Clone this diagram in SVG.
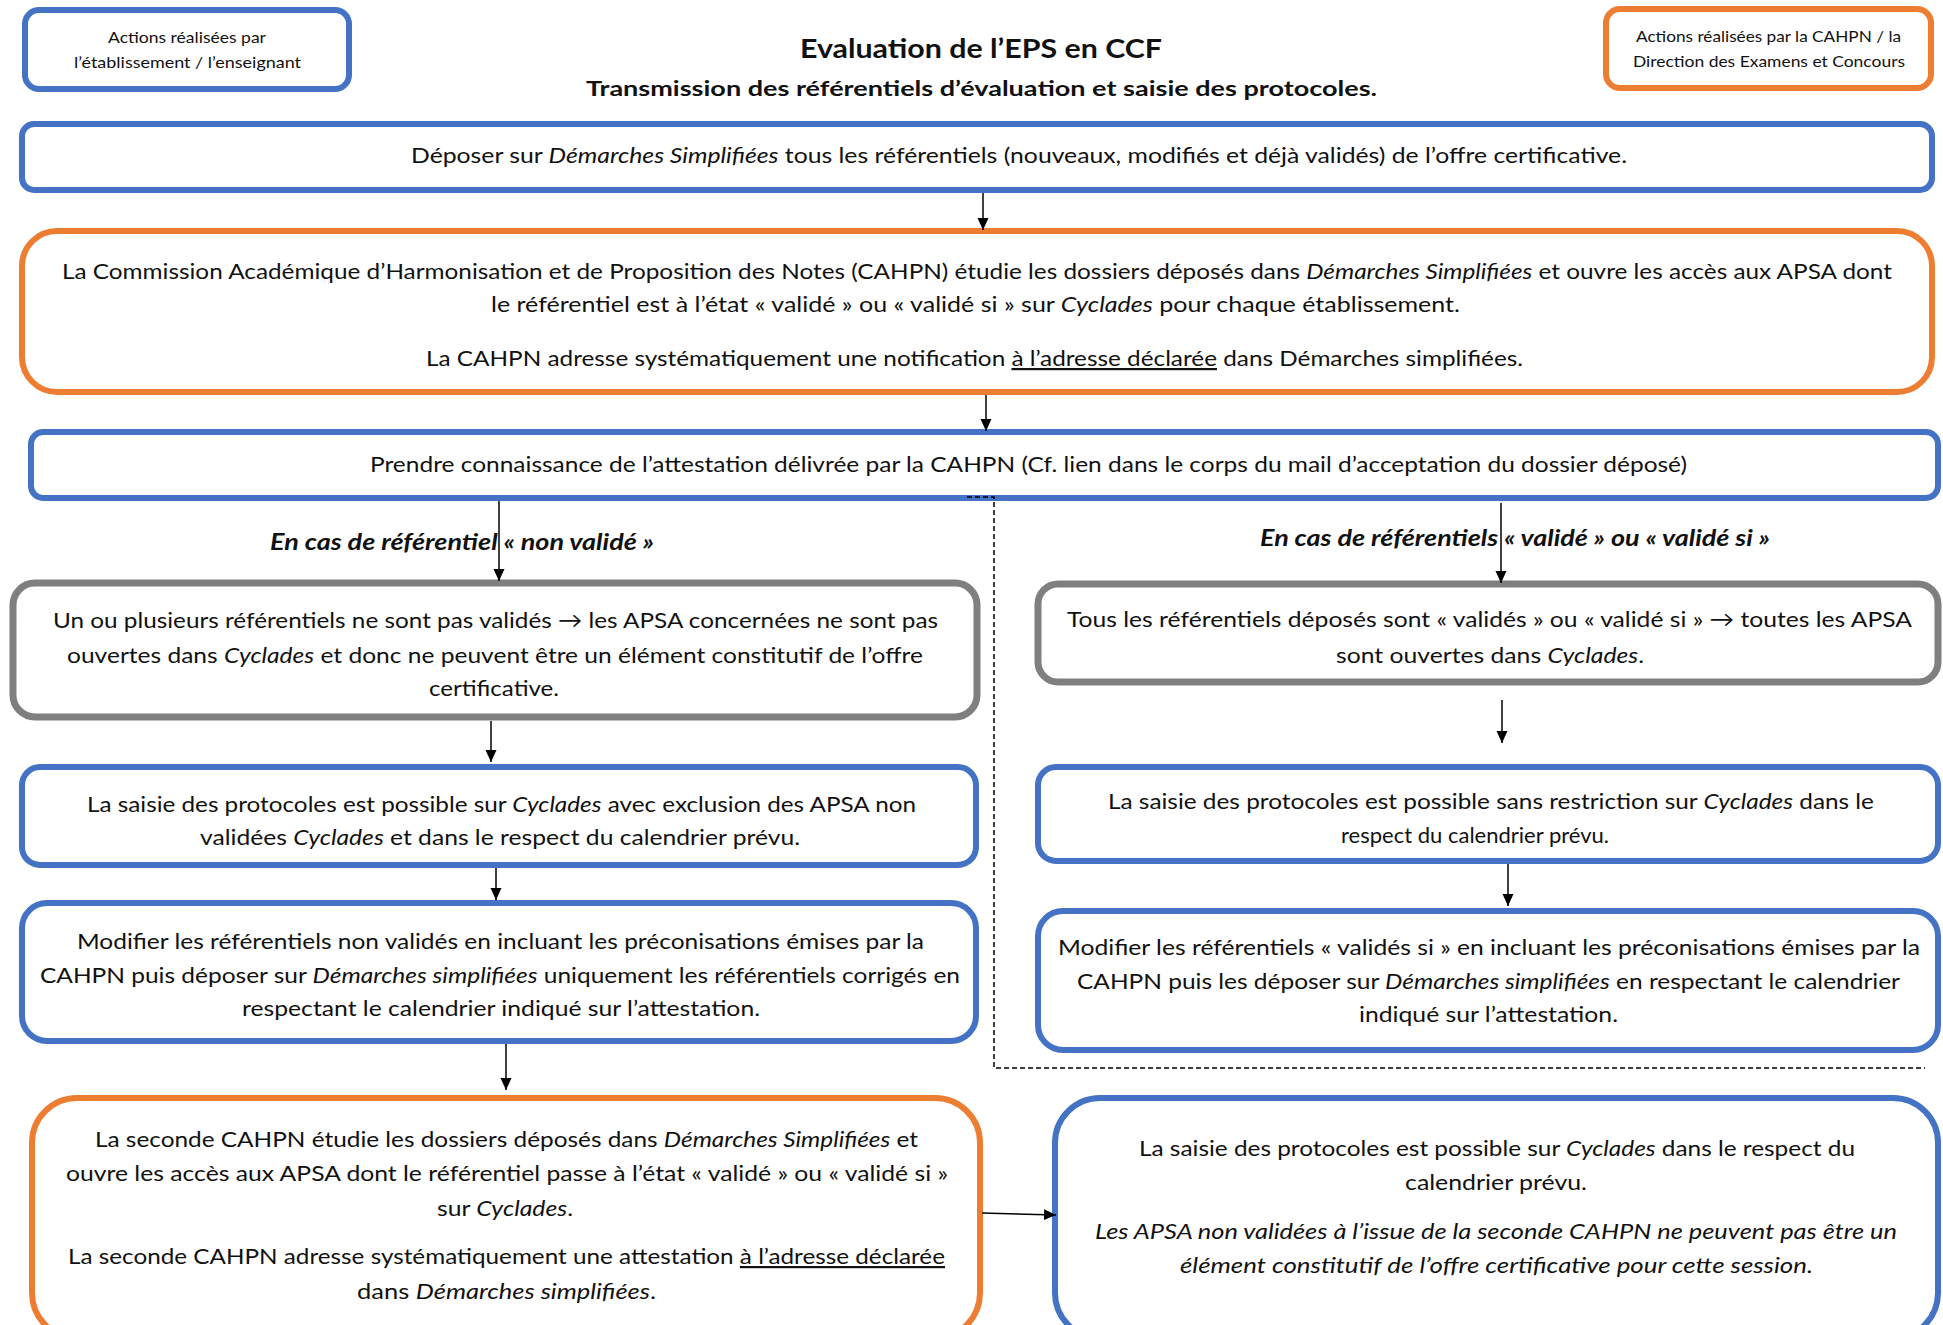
<svg xmlns="http://www.w3.org/2000/svg" width="1943" height="1325" viewBox="0 0 1943 1325">
<defs>
<style>
.b{fill:#fff;stroke:#4472C4;stroke-width:6}
.o{fill:#fff;stroke:#ED7D31;stroke-width:6}
.g{fill:#fff;stroke:#7F7F7F;stroke-width:7}
text{font-family:Lato,"Open Sans","Liberation Sans",sans-serif;fill:#111;}
.t{font-size:22px}
.s{font-size:15px}
.i{font-style:italic}
.u{text-decoration:underline}
.h{font-weight:bold}
.c{stroke:#000;stroke-width:1.5;fill:none}
</style>
<marker id="ah" markerUnits="userSpaceOnUse" markerWidth="12" markerHeight="12" refX="12" refY="6" orient="auto"><path d="M0,0.5 L12,6 L0,11.5 z" fill="#000"/></marker>
<clipPath id="cH"><rect x="1040" y="640" width="900" height="26"/></clipPath>
<clipPath id="cI"><rect x="1040" y="820" width="900" height="27"/></clipPath>
</defs>
<rect width="1943" height="1325" fill="#fff"/>

<g id="title">
<text class="h" x="800" y="58" font-size="27" textLength="362" lengthAdjust="spacingAndGlyphs">Evaluation de l’EPS en CCF</text>
<text class="h" x="586" y="96" font-size="21" textLength="791" lengthAdjust="spacingAndGlyphs">Transmission des référentiels d’évaluation et saisie des protocoles.</text>
</g>

<g id="legend-etab">
<rect class="b" x="25" y="10" width="324" height="79" rx="14"/>
<text class="s" x="108" y="43" textLength="158" lengthAdjust="spacingAndGlyphs">Actions réalisées par</text>
<text class="s" x="74" y="68" textLength="227" lengthAdjust="spacingAndGlyphs">l’établissement / l’enseignant</text>
</g>

<g id="legend-cahpn">
<rect class="o" x="1606" y="9" width="325" height="79" rx="14"/>
<text class="s" x="1636" y="42" textLength="265" lengthAdjust="spacingAndGlyphs">Actions réalisées par la CAHPN / la</text>
<text class="s" x="1633" y="67" textLength="272" lengthAdjust="spacingAndGlyphs">Direction des Examens et Concours</text>
</g>

<g id="n-deposer">
<rect class="b" x="22" y="124" width="1910" height="66" rx="12"/>
<text class="t" x="411" y="163" textLength="1216" lengthAdjust="spacingAndGlyphs">Déposer sur <tspan class="i">Démarches Simplifiées</tspan> tous les référentiels (nouveaux, modifiés et déjà validés) de l’offre certificative.</text>
</g>

<g id="n-cahpn1">
<rect class="o" x="22" y="231" width="1910" height="161" rx="35"/>
<text class="t" x="62" y="279" textLength="1830" lengthAdjust="spacingAndGlyphs">La Commission Académique d’Harmonisation et de Proposition des Notes (CAHPN) étudie les dossiers déposés dans <tspan class="i">Démarches Simplifiées</tspan>  et ouvre les accès aux APSA dont</text>
<text class="t" x="491" y="312" textLength="969" lengthAdjust="spacingAndGlyphs">le référentiel est à l’état « validé » ou « validé si » sur <tspan class="i">Cyclades</tspan> pour chaque établissement.</text>
<text class="t" x="426" y="366" textLength="1097" lengthAdjust="spacingAndGlyphs">La CAHPN adresse systématiquement une notification <tspan class="u">à l’adresse déclarée</tspan> dans Démarches simplifiées.</text>
</g>

<g id="n-attestation">
<rect class="b" x="31" y="432" width="1907" height="66" rx="12"/>
<text class="t" x="370" y="472" textLength="1317" lengthAdjust="spacingAndGlyphs">Prendre connaissance de l’attestation délivrée par la CAHPN (Cf. lien dans le corps du mail  d’acceptation du dossier déposé)</text>
</g>

<g id="label-nonvalide">
<text class="t h i" x="270" y="550" font-size="21" textLength="384" lengthAdjust="spacingAndGlyphs">En cas de référentiel  « non validé »</text>
</g>
<g id="label-valide">
<text class="t h i" x="1260" y="546" font-size="21" textLength="510" lengthAdjust="spacingAndGlyphs">En cas de référentiels « validé » ou « validé si »</text>
</g>

<g id="n-nonvalides">
<rect class="g" x="13" y="583" width="964" height="134" rx="22"/>
<text class="t" x="53" y="628" textLength="885" lengthAdjust="spacingAndGlyphs">Un ou plusieurs référentiels ne sont pas validés → les APSA concernées ne sont pas</text>
<text class="t" x="67" y="663" textLength="856" lengthAdjust="spacingAndGlyphs">ouvertes dans <tspan class="i">Cyclades</tspan> et donc ne peuvent être un élément constitutif de l’offre</text>
<text class="t" x="429" y="696" textLength="130" lengthAdjust="spacingAndGlyphs">certificative.</text>
</g>

<g id="n-saisie-exclusion">
<rect class="b" x="22" y="767" width="954" height="98" rx="18"/>
<text class="t" x="87" y="812" textLength="829" lengthAdjust="spacingAndGlyphs">La saisie des protocoles est possible sur <tspan class="i">Cyclades</tspan> avec exclusion des APSA non</text>
<text class="t" x="200" y="845" textLength="600" lengthAdjust="spacingAndGlyphs">validées <tspan class="i">Cyclades</tspan> et dans le respect du calendrier prévu.</text>
</g>

<g id="n-modifier-nonvalides">
<rect class="b" x="22" y="903" width="954" height="138" rx="25"/>
<text class="t" x="77" y="949" textLength="847" lengthAdjust="spacingAndGlyphs">Modifier les référentiels non validés en incluant les préconisations émises par la</text>
<text class="t" x="40" y="983" textLength="920" lengthAdjust="spacingAndGlyphs">CAHPN puis déposer sur <tspan class="i">Démarches simplifiées</tspan> uniquement les référentiels corrigés en</text>
<text class="t" x="242" y="1016" textLength="518" lengthAdjust="spacingAndGlyphs">respectant le calendrier indiqué sur l’attestation.</text>
</g>

<g id="n-cahpn2">
<rect class="o" x="32" y="1098" width="948" height="240" rx="45"/>
<text class="t" x="95" y="1147" textLength="823" lengthAdjust="spacingAndGlyphs">La seconde CAHPN étudie les dossiers déposés dans <tspan class="i">Démarches Simplifiées</tspan> et</text>
<text class="t" x="66" y="1181" textLength="882" lengthAdjust="spacingAndGlyphs">ouvre les accès aux APSA dont le référentiel passe à l’état « validé » ou « validé si »</text>
<text class="t" x="437" y="1216" textLength="136" lengthAdjust="spacingAndGlyphs">sur <tspan class="i">Cyclades</tspan>.</text>
<text class="t" x="68" y="1264" textLength="877" lengthAdjust="spacingAndGlyphs">La seconde CAHPN adresse systématiquement une attestation <tspan class="u">à l’adresse déclarée</tspan></text>
<text class="t" x="357" y="1299" textLength="299" lengthAdjust="spacingAndGlyphs">dans <tspan class="i">Démarches simplifiées</tspan>.</text>
</g>

<g id="n-valides">
<rect class="g" x="1038" y="584" width="900" height="98" rx="20"/>
<text class="t" x="1067" y="627" textLength="845" lengthAdjust="spacingAndGlyphs">Tous les référentiels déposés sont « validés » ou « validé si » → toutes les APSA</text>
<text class="t" x="1336" y="663" textLength="308" lengthAdjust="spacingAndGlyphs" clip-path="url(#cH)">sont ouvertes dans <tspan class="i">Cyclades</tspan>.</text>
</g>

<g id="n-saisie-libre">
<rect class="b" x="1038" y="767" width="900" height="94" rx="18"/>
<text class="t" x="1108" y="809" textLength="766" lengthAdjust="spacingAndGlyphs">La saisie des protocoles est possible sans restriction sur <tspan class="i">Cyclades</tspan> dans le</text>
<text class="t" x="1341" y="843" textLength="268" lengthAdjust="spacingAndGlyphs" clip-path="url(#cI)">respect du calendrier prévu.</text>
</g>

<g id="n-modifier-validessi">
<rect class="b" x="1038" y="911" width="900" height="139" rx="25"/>
<text class="t" x="1058" y="955" textLength="862" lengthAdjust="spacingAndGlyphs">Modifier les référentiels « validés si » en incluant les préconisations émises par la</text>
<text class="t" x="1077" y="989" textLength="823" lengthAdjust="spacingAndGlyphs">CAHPN puis les déposer sur <tspan class="i">Démarches simplifiées</tspan> en respectant le calendrier</text>
<text class="t" x="1359" y="1022" textLength="259" lengthAdjust="spacingAndGlyphs">indiqué sur l’attestation.</text>
</g>

<g id="n-saisie-finale">
<rect class="b" x="1055" y="1098" width="883" height="240" rx="45"/>
<text class="t" x="1139" y="1156" textLength="716" lengthAdjust="spacingAndGlyphs">La saisie des protocoles est possible sur <tspan class="i">Cyclades</tspan> dans le respect du</text>
<text class="t" x="1405" y="1190" textLength="182" lengthAdjust="spacingAndGlyphs">calendrier prévu.</text>
<text class="t i" x="1095" y="1239" textLength="802" lengthAdjust="spacingAndGlyphs">Les APSA non validées à l’issue de la seconde CAHPN ne peuvent pas être un</text>
<text class="t i" x="1180" y="1273" textLength="633" lengthAdjust="spacingAndGlyphs">élément constitutif de l’offre certificative pour cette session.</text>
</g>

<g id="connectors">
<line class="c" x1="983" y1="193" x2="983" y2="230" marker-end="url(#ah)"/>
<line class="c" x1="986" y1="395" x2="986" y2="431" marker-end="url(#ah)"/>
<line class="c" x1="499" y1="501" x2="499" y2="581" marker-end="url(#ah)"/>
<line class="c" x1="1501" y1="503" x2="1501" y2="583" marker-end="url(#ah)"/>
<line class="c" x1="491" y1="721" x2="491" y2="762" marker-end="url(#ah)"/>
<line class="c" x1="496" y1="868" x2="496" y2="900" marker-end="url(#ah)"/>
<line class="c" x1="506" y1="1044" x2="506" y2="1090" marker-end="url(#ah)"/>
<line class="c" x1="1502" y1="700" x2="1502" y2="743" marker-end="url(#ah)"/>
<line class="c" x1="1508" y1="864" x2="1508" y2="906" marker-end="url(#ah)"/>
<line class="c" x1="982" y1="1213" x2="1056" y2="1215" marker-end="url(#ah)"/>
<path class="c" d="M967,497 H994 V1068 H1925" stroke-dasharray="5,3"/>
</g>
</svg>
